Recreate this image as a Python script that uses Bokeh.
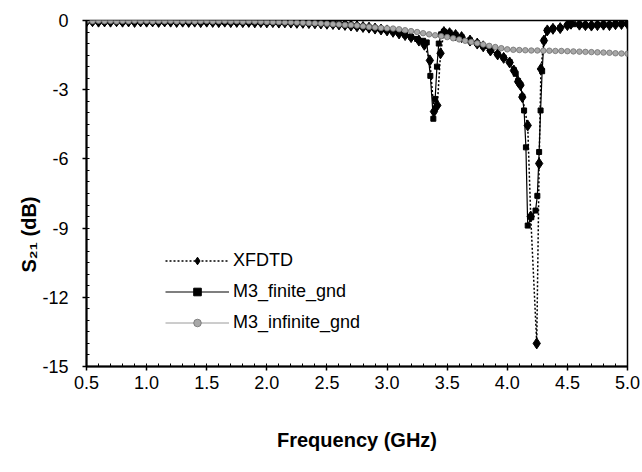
import numpy as np
from bokeh.plotting import figure
from bokeh.models import (Range1d, FixedTicker, Legend, LegendItem, Title)
from bokeh.embed import file_html
from bokeh.resources import INLINE

# ---- data: S21 (dB) versus frequency (GHz) ----
freq_xfdtd = [0.50, 0.55, 0.60, 0.65, 0.70, 0.75, 0.80, 0.85, 0.90, 0.95,
              1.00, 1.05, 1.10, 1.15, 1.20, 1.25, 1.30, 1.35, 1.40, 1.45,
              1.50, 1.55, 1.60, 1.65, 1.70, 1.75, 1.80, 1.85, 1.90, 1.95,
              2.00, 2.05, 2.10, 2.15, 2.20, 2.25, 2.30, 2.35, 2.40, 2.45,
              2.50, 2.55, 2.60, 2.65, 2.70, 2.75, 2.80, 2.85, 2.90, 2.95,
              3.00, 3.05, 3.10, 3.15, 3.20, 3.265, 3.31, 3.356, 3.39, 3.418,
              3.445, 3.473, 3.52, 3.57, 3.62, 3.69, 3.75, 3.80, 3.86, 3.92,
              3.97, 4.02, 4.055, 4.09, 4.11, 4.125, 4.17, 4.195, 4.245, 4.265,
              4.28, 4.305, 4.333, 4.38, 4.44, 4.50, 4.53, 4.60, 4.65, 4.70,
              4.75, 4.80, 4.85, 4.90, 4.95, 5.00]
s21_xfdtd = [-0.04, -0.03, -0.05, -0.04, -0.05, -0.03, -0.05, -0.04, -0.06, -0.04,
             -0.05, -0.04, -0.06, -0.04, -0.05, -0.06, -0.05, -0.06, -0.05, -0.07,
             -0.05, -0.06, -0.07, -0.05, -0.07, -0.06, -0.07, -0.06, -0.08, -0.07,
             -0.08, -0.07, -0.09, -0.08, -0.09, -0.10, -0.10, -0.11, -0.12, -0.13,
             -0.14, -0.15, -0.17, -0.19, -0.22, -0.25, -0.28, -0.31, -0.35, -0.39,
             -0.43, -0.49, -0.56, -0.63, -0.72, -0.87, -1.05, -1.73, -3.95, -3.68,
             -1.42, -0.50, -0.55, -0.63, -0.72, -0.87, -1.00, -1.12, -1.30, -1.47,
             -1.62, -1.82, -2.17, -2.65, -2.80, -3.32, -4.55, -8.50, -14.0, -6.20,
             -2.10, -0.87, -0.43, -0.36, -0.33, -0.20, -0.14, -0.18, -0.20, -0.22,
             -0.20, -0.18, -0.20, -0.16, -0.15, -0.14]

freq_finite = [0.50, 0.55, 0.60, 0.65, 0.70, 0.75, 0.80, 0.85, 0.90, 0.95,
               1.00, 1.05, 1.10, 1.15, 1.20, 1.25, 1.30, 1.35, 1.40, 1.45,
               1.50, 1.55, 1.60, 1.65, 1.70, 1.75, 1.80, 1.85, 1.90, 1.95,
               2.00, 2.05, 2.10, 2.15, 2.20, 2.25, 2.30, 2.35, 2.40, 2.45,
               2.50, 2.55, 2.60, 2.65, 2.70, 2.75, 2.80, 2.85, 2.90, 2.95,
               3.00, 3.05, 3.10, 3.15, 3.20, 3.25, 3.30, 3.33, 3.36, 3.385,
               3.40, 3.415, 3.43, 3.45, 3.473, 3.52, 3.57, 3.62, 3.69, 3.75,
               3.80, 3.86, 3.92, 3.97, 4.02, 4.055, 4.07, 4.09, 4.11, 4.125,
               4.14, 4.155, 4.17, 4.20, 4.235, 4.25, 4.265, 4.277, 4.29, 4.305,
               4.333, 4.38, 4.44, 4.50, 4.55, 4.60, 4.65, 4.70, 4.75, 4.80,
               4.85, 4.90, 4.95, 5.00]
s21_finite = [-0.03, -0.04, -0.03, -0.05, -0.03, -0.04, -0.05, -0.03, -0.04, -0.05,
              -0.03, -0.05, -0.04, -0.05, -0.03, -0.05, -0.04, -0.05, -0.04, -0.06,
              -0.04, -0.05, -0.04, -0.06, -0.05, -0.06, -0.05, -0.06, -0.05, -0.07,
              -0.06, -0.07, -0.06, -0.08, -0.07, -0.08, -0.08, -0.09, -0.10, -0.11,
              -0.13, -0.14, -0.16, -0.18, -0.21, -0.24, -0.27, -0.30, -0.34, -0.38,
              -0.42, -0.48, -0.55, -0.62, -0.71, -0.80, -0.88, -0.95, -2.40, -4.26,
              -3.40, -2.00, -1.00, -0.60, -0.48, -0.53, -0.62, -0.71, -0.86, -0.99,
              -1.11, -1.29, -1.46, -1.61, -1.80, -2.15, -2.31, -2.62, -2.78, -3.30,
              -3.90, -5.50, -8.89, -8.53, -8.24, -7.60, -5.70, -3.90, -2.20, -0.87,
              -0.43, -0.35, -0.32, -0.21, -0.16, -0.18, -0.21, -0.22, -0.19, -0.18,
              -0.19, -0.16, -0.15, -0.13]

freq_infinite = [0.50, 0.55, 0.60, 0.65, 0.70, 0.75, 0.80, 0.85, 0.90, 0.95,
                 1.00, 1.05, 1.10, 1.15, 1.20, 1.25, 1.30, 1.35, 1.40, 1.45,
                 1.50, 1.55, 1.60, 1.65, 1.70, 1.75, 1.80, 1.85, 1.90, 1.95,
                 2.00, 2.05, 2.10, 2.15, 2.20, 2.25, 2.30, 2.35, 2.40, 2.45,
                 2.50, 2.55, 2.60, 2.65, 2.70, 2.75, 2.80, 2.85, 2.90, 2.95,
                 3.00, 3.05, 3.10, 3.15, 3.20, 3.25, 3.30, 3.35, 3.40, 3.45,
                 3.50, 3.55, 3.60, 3.65, 3.70, 3.75, 3.80, 3.85, 3.90, 3.95,
                 4.00, 4.05, 4.10, 4.15, 4.20, 4.25, 4.30, 4.35, 4.40, 4.45,
                 4.50, 4.55, 4.60, 4.65, 4.70, 4.75, 4.80, 4.85, 4.90, 4.95,
                 5.00]
s21_infinite = [-0.02, -0.03, -0.01, -0.03, -0.02, -0.04, -0.02, -0.03, -0.01, -0.03,
                -0.02, -0.04, -0.02, -0.03, -0.02, -0.04, -0.03, -0.02, -0.04, -0.03,
                -0.02, -0.04, -0.03, -0.02, -0.04, -0.03, -0.05, -0.03, -0.04, -0.05,
                -0.06, -0.07, -0.07, -0.08, -0.08, -0.09, -0.10, -0.11, -0.12, -0.13,
                -0.14, -0.16, -0.17, -0.19, -0.20, -0.22, -0.25, -0.28, -0.30, -0.32,
                -0.34, -0.35, -0.38, -0.42, -0.46, -0.50, -0.55, -0.60, -0.64, -0.68,
                -0.72, -0.77, -0.82, -0.88, -0.93, -0.99, -1.04, -1.10, -1.15, -1.20,
                -1.25, -1.27, -1.28, -1.29, -1.30, -1.30, -1.31, -1.31, -1.32, -1.32,
                -1.33, -1.34, -1.35, -1.36, -1.37, -1.38, -1.39, -1.40, -1.42, -1.43,
                -1.44]

x_ticks = [0.5, 1.0, 1.5, 2.0, 2.5, 3.0, 3.5, 4.0, 4.5, 5.0]
x_tick_labels = ["0.5", "1.0", "1.5", "2.0", "2.5", "3.0", "3.5", "4.0", "4.5", "5.0"]
y_ticks = [0, -3, -6, -9, -12, -15]
y_tick_labels = ["0", "-3", "-6", "-9", "-12", "-15"]

FONT = "Liberation Sans"

p = figure(width=642, height=472, output_backend="svg", toolbar_location=None,
           x_range=Range1d(0.5, 5.0), y_range=Range1d(-15, 0),
           min_border_left=86, min_border_right=15, min_border_top=20,
           min_border_bottom=106)
p.grid.visible = False
p.outline_line_color = "black"
p.outline_line_width = 1.5
p.background_fill_color = "white"
p.border_fill_color = "white"

# axes
p.xaxis.ticker = FixedTicker(ticks=x_ticks,
                             minor_ticks=[round(0.5 + 0.1 * i, 2) for i in range(46)])
p.yaxis.ticker = FixedTicker(ticks=y_ticks,
                             minor_ticks=[-0.5 * i for i in range(31)])
p.xaxis.major_label_overrides = dict(zip(x_ticks, x_tick_labels))
p.yaxis.major_label_overrides = dict(zip(y_ticks, y_tick_labels))
for ax in (p.xaxis, p.yaxis):
    ax.axis_line_width = 2
    ax.axis_line_color = "black"
    ax.major_tick_line_color = "black"
    ax.minor_tick_line_color = "black"
    ax.major_tick_line_width = 1.5
    ax.major_tick_out = 4
    ax.major_tick_in = 0
    ax.minor_tick_in = 3
    ax.minor_tick_out = 0
    ax.major_label_text_font = FONT
    ax.major_label_text_font_size = "18px"
    ax.major_label_text_color = "black"

p.yaxis.major_label_standoff = 14
p.xaxis.major_label_standoff = 5
p.xaxis.axis_label = "Frequency (GHz)"
p.xaxis.axis_label_text_font = FONT
p.xaxis.axis_label_text_font_style = "bold"
p.xaxis.axis_label_text_font_size = "20px"
p.xaxis.axis_label_standoff = 37
p.xaxis.axis_label_text_color = "black"

# vertical axis title, placed in the left margin
ytitle = Title(text="S\u2082\u2081 (dB)", align="left", offset=94,
               text_font=FONT, text_font_style="bold", text_font_size="20px",
               text_color="black", standoff=0)
p.add_layout(ytitle, "left")

# series
l_fin = p.line(freq_finite, s21_finite, line_color="black", line_width=1.2)
m_fin = p.scatter(freq_finite, s21_finite, marker="square", size=5,
                  fill_color="black", line_color="black")
l_xf = p.line(freq_xfdtd, s21_xfdtd, line_color="black", line_width=1.5,
              line_dash="2 2")
m_xf = p.scatter(freq_xfdtd, s21_xfdtd, marker="diamond", size=11,
                 fill_color="black", line_color="black")
l_inf = p.line(freq_infinite, s21_infinite, line_color="#9a9a9a", line_width=1)
m_inf = p.scatter(freq_infinite, s21_infinite, marker="circle", size=5.5,
                  fill_color="#a8a8a8", line_color="#707070", line_width=0.8)

legend = Legend(items=[
    LegendItem(label="XFDTD", renderers=[l_xf, m_xf]),
    LegendItem(label="M3_finite_gnd", renderers=[l_fin, m_fin]),
    LegendItem(label="M3_infinite_gnd", renderers=[l_inf, m_inf]),
], location=(79, 33), orientation="vertical")
legend.glyph_width = 64
legend.glyph_height = 19
legend.label_height = 19
legend.spacing = 10
legend.padding = 0
legend.margin = 0
legend.label_standoff = 4
legend.label_text_font = FONT
legend.label_text_font_size = "18px"
legend.label_text_color = "black"
legend.border_line_alpha = 0
legend.background_fill_alpha = 0
p.add_layout(legend)

open("out.html", "w").write(file_html(p, INLINE))
